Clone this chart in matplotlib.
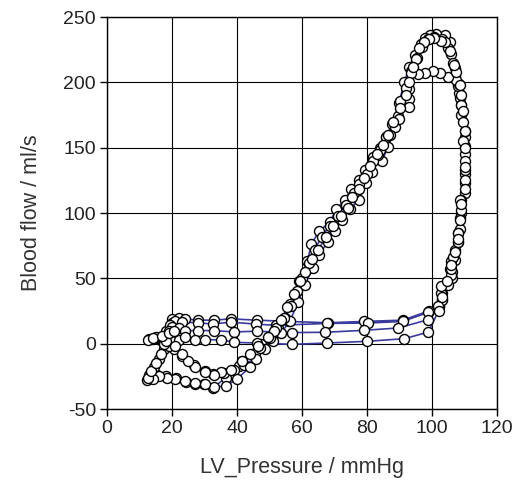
import matplotlib
matplotlib.use("Agg")
import matplotlib.pyplot as plt
import numpy as np

plt.rcParams['font.family'] = ['Liberation Sans', 'DejaVu Sans']

# Four consecutive cycles of (LV pressure [mmHg], blood flow [ml/s])
cycle1 = [(20,19),(22,19.5),(24,19),(28,18),(33,18),(38,19),(46,18),(56,17),(68,16),(79,17),(91,18),(99,25),
          (102,29),(103,34),(103,39),(106,50),(106,55),(107,64),(108,78),(108.7,88),(109,100),(110,115),(110,130),
          (110,145),(110,158),(109,175),(108.7,188),(108,199),(107.2,211),(105.9,222),(105.6,231),(103.9,236),
          (101.1,237),(99.5,236),(97.8,234),(96.7,229),(94.7,221),(93,212),(91.5,200),(89.8,184),(87.8,168),
          (85.7,158),(84.1,150),(81.8,143),(79.3,133),(77.5,125),(75.2,118),(73.1,110),(70.6,103),(68.5,93),
          (65.2,86),(62.9,76),(61.6,63),(59.1,48),(56.2,30),(54.9,20),(52.5,12),(50.8,4),(47.5,0),(45.4,-7),
          (41.6,-13),(40.6,-17),(36.5,-26),(32.6,-34),(29.7,-31),(27.2,-31),(24.2,-29.6),(21.3,-26.3),
          (18.3,-24.5),(15.5,-24),(13.5,-26),(12.3,-27.5),(13,-24),(14.5,-18),(16,-12),(17.5,-4),(18.5,5),(19.5,12)]

cycle2 = [(20,16),(21,17),(23,16.5),(28,16),(32.6,15),(38,16.5),(45.7,15),(52,14),(67.8,15.5),(80.4,15.8),
          (91,17),(98.9,24),(102,28),(103,33.7),(105,45),(105.6,57),(105.9,63),(107,72),(108,85),(108.7,96),
          (109,110),(110,123),(110,133),(110,151),(110,162.5),(109,183),(108.3,192),(108,197),(107,205),
          (106.5,215),(105,226),(103,233),(100.5,235),(98.8,233),(97,227),(95.5,219),(93.5,209),(92.9,195),
          (92.9,187.5),(92.9,181),(89.5,174),(88.5,166),(86.5,150.5),(84.6,140),(83.4,144.6),(81.6,131),
          (79.8,123),(77.5,110),(74.7,103),(72.3,95),(70,86.5),(68,78),(65.2,68),(63.4,58),(60.8,45),
          (58.8,31.6),(56.2,17),(53.5,8),(51,2),(48.5,-4),(45.7,-11.5),(42,-16),(39,-20),(35.9,-22.4),
          (32.6,-23),(30,-21),(26.8,-16),(23.2,-9.7),(20.5,-4),(19,-2),(17,2),(15,4),(13,3.5),(15,5),
          (18,10),(19.5,14)]

cycle3 = [(20,13),(22,12),(24,10),(28,10),(33,10),(39,9),(46,9.5),(57,8.5),(67,8.7),(79,10.2),(89.6,12),
          (98.9,18.4),(101.8,28.6),(102.9,38.8),(102.9,44),(105.9,52.8),(105.9,57),(106.5,66),(108,78),
          (108,84.7),(109,102.5),(108.7,110),(110,125),(110,140),(109.5,155),(109.5,170),(109,183),
          (108.3,198.7),(107.3,202),(104.9,204),(102.6,207),(100.3,209),(97.8,207),(95.7,206.6),(93.5,207),
          (91.9,195.6),(90,186),(89.8,172),(87,160),(85.7,158),(84,148),(81.8,140),(80,130),(77.5,122),
          (76,115),(73.5,106),(71,98),(68.5,90),(66,82),(64,72),(62,62),(60,50),(58.5,40),(56.5,29),
          (54.5,20),(52,12),(50,4),(47,-3),(44,-18),(40,-27),(36.5,-32.6),(33,-33),(30,-31),(27,-30),
          (24,-28.5),(21,-27),(18.5,-26),(16,-25),(14,-27),(12.5,-26),(13.5,-21),(15,-15),(16.5,-8),
          (17.5,0),(18,6),(19,10)]

cycle4 = [(20,2),(22,3),(24,5),(27,3),(30,3),(35,3),(39.2,1),(46,0.5),(57,-0.5),(67.8,0.5),(80,1.8),
          (91.5,3.8),(98.9,8.9),(102,25),(103,36),(104.5,48),(105.9,60),(107,70),(108,80),(108.5,95),
          (109,107),(110,118),(110,135),(110,150),(110,163),(109.5,178),(109,190),(108.5,198),(107.5,208),
          (106.7,213.5),(105.6,224),(104,231),(102.9,232),(100.5,234),(99,233),(97.5,231),(96,226),(95,218),
          (94,212),(93,200),(92,190),(90,180),(88,170),(86.5,160),(85,152),(83,145),(81,136),(79,127),
          (77.5,118),(75.5,112),(74,104),(72,98),(69.5,90),(67.5,82),(65,72),(63,65),(61,55),(59.5,48),
          (57.5,38),(55.5,28),(53.5,18),(51.5,10),(49.5,5),(46.5,-2),(44,-8),(41.5,-13),(38,-20),(35,-22),
          (33,-24),(30,-22),(27,-18),(25,-13),(23,-8),(21,-2),(18,2),(14,3.5),(12.5,3),(14,4),(17,6),
          (19,8),(20.5,10)]

x_ticks = [0, 20, 40, 60, 80, 100, 120]
y_ticks = [-50, 0, 50, 100, 150, 200, 250]

pts = cycle1 + cycle2 + cycle3 + cycle4
pressure = [p for p, _ in pts]
flow = [f for _, f in pts]

fig = plt.figure(figsize=(5.23, 4.84), dpi=100)
ax = fig.add_axes([107/523, 1 - 409/484, 390/523, 392/484])

ax.plot(pressure, flow, color='#3b3b9e', lw=1.2, marker='o', markersize=7.2,
        markerfacecolor='white', markeredgecolor='black', markeredgewidth=1.0, zorder=3)

ax.set_xlim(0, 120)
ax.set_ylim(-50, 250)
ax.set_xticks(x_ticks)
ax.set_yticks(y_ticks)
ax.set_yticklabels([str(t) for t in y_ticks])
ax.grid(True, color='black', lw=0.8)
ax.set_axisbelow(True)
for s in ax.spines.values():
    s.set_color('black')
    s.set_linewidth(1.0)
ax.tick_params(direction='out', length=5, width=1, colors='black', labelsize=14, pad=3)
for lab in ax.get_xticklabels() + ax.get_yticklabels():
    lab.set_color('#222222')
ax.set_xlabel('LV_Pressure / mmHg', fontsize=15.5, color='#333333', labelpad=14)
ax.set_ylabel('Blood flow / ml/s', fontsize=15.5, color='#333333', labelpad=15)

fig.savefig('out.png', dpi=100)
